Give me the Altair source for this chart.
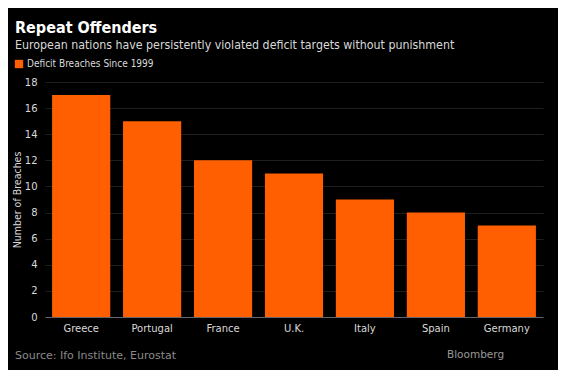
import altair as alt
import pandas as pd

countries = ["Greece", "Portugal", "France", "U.K.", "Italy", "Spain", "Germany"]
breaches = [17, 15, 12, 11, 9, 8, 7]
series_name = "Deficit Breaches Since 1999"
y_ticks = [0, 2, 4, 6, 8, 10, 12, 14, 16, 18]

df = pd.DataFrame({"country": countries, "breaches": breaches, "series": series_name})

FONT = "DejaVu Sans"
CFONT = "DejaVu Sans Condensed, Liberation Sans Narrow, DejaVu Sans"

bars = alt.Chart(df).mark_bar(color="#ff5f00").encode(
    x=alt.X("country:N", sort=countries, title=None,
            scale=alt.Scale(paddingInner=0.18, paddingOuter=0.1),
            axis=alt.Axis(labelAngle=0, labelColor="#d9d9d9", labelFontSize=10,
                          labelFont=FONT, ticks=False, domain=True, domainColor="#666666",
                          domainWidth=1, labelPadding=6)),
    y=alt.Y("breaches:Q", title="Number of Breaches",
            scale=alt.Scale(domain=[0, 18], nice=False),
            axis=alt.Axis(values=y_ticks, labelColor="#d9d9d9", labelFontSize=10,
                          labelFont=FONT, titleColor="#d9d9d9", titleFontSize=10.5,
                          titleFont=CFONT, titleFontWeight="normal", titlePadding=2,
                          ticks=False, domain=False, grid=True, gridColor="#1e1e1e",
                          labelPadding=8, labelOverlap=False)),
    fill=alt.Fill("series:N", scale=alt.Scale(range=["#ff5f00"]),
                  legend=alt.Legend(title=None, orient="none", legendX=-31, legendY=-23,
                                    symbolType="square", symbolSize=70, labelColor="#d9d9d9",
                                    labelFontSize=10, labelFont=CFONT, symbolStrokeWidth=0,
                                    labelOffset=3)),
)

source = alt.Chart(pd.DataFrame({"t": ["Source: Ifo Institute, Eurostat"]})).mark_text(
    align="left", baseline="middle", color="#8a8a8a", fontSize=11, font=FONT
).encode(text="t:N", x=alt.value(-30), y=alt.value(274))

brand = alt.Chart(pd.DataFrame({"t": ["Bloomberg"]})).mark_text(
    align="left", baseline="middle", color="#9a9a9a", fontSize=10.5, font=FONT
).encode(text="t:N", x=alt.value(402), y=alt.value(273))

chart = alt.layer(bars, source, brand).properties(
    width=498, height=235,
    background="#000000",
    padding={"left": 37, "top": 74, "right": 15, "bottom": 53},
    autosize=alt.AutoSizeParams(type="none"),
    title=alt.Title("Repeat Offenders",
                    subtitle="European nations have persistently violated deficit targets without punishment",
                    anchor="start", frame="group", dx=-30, offset=8,
                    color="#ffffff", fontSize=16, font=CFONT, fontWeight="bold",
                    subtitleColor="#d9d9d9", subtitleFontSize=12.3, subtitleFont=CFONT,
                    subtitlePadding=3),
).configure_view(stroke=None)

chart.save("out.html", embed_options={"renderer": "svg", "actions": False})
